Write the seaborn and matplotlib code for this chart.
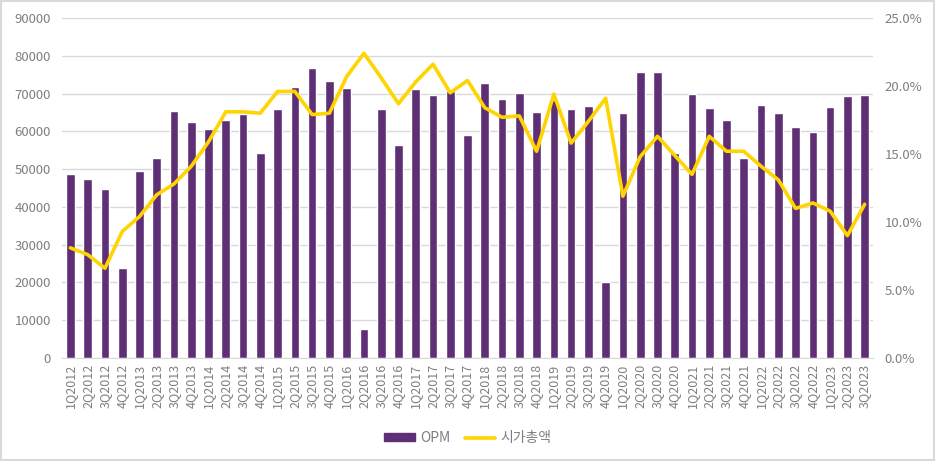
import numpy as np
import pandas as pd
import seaborn as sns
import matplotlib.pyplot as plt
from matplotlib.patches import Patch, Rectangle
from matplotlib.lines import Line2D
from matplotlib.ticker import FuncFormatter

# Quarter labels
quarters = [f"{q}Q{y}" for y in range(2012, 2024) for q in range(1, 5)][:47]

# OPM (bars, left axis)
opm = [48800, 47300, 44700, 23800, 49400, 53000, 65400, 62600,
       60700, 62900, 64700, 54200, 65800, 71700, 76800, 73300,
       71400, 7600, 66000, 56500, 71300, 69700, 70700, 58900,
       72900, 68600, 70200, 65200, 68300, 65800, 66600, 20200,
       64900, 75600, 75700, 54200, 69900, 66100, 63000, 52900,
       66900, 64800, 61200, 59900, 66500, 69400, 69600]

# 시가총액 (line, right axis, %)
mcap = [8.1, 7.6, 6.6, 9.3, 10.4, 12.0, 12.8, 14.1,
        15.9, 18.1, 18.1, 18.0, 19.6, 19.6, 17.9, 18.0,
        20.7, 22.4, 20.6, 18.7, 20.3, 21.6, 19.5, 20.4,
        18.4, 17.7, 17.8, 15.2, 19.4, 15.8, 17.4, 19.1,
        11.9, 14.8, 16.3, 14.9, 13.5, 16.3, 15.2, 15.2,
        14.1, 13.1, 11.0, 11.4, 10.8, 9.0, 11.3]

df = pd.DataFrame({"quarter": quarters, "OPM": opm, "mcap": mcap})
df["pos"] = np.arange(len(df))

bar_color = "#5E2F75"
line_color = "#FFD400"
text_color = "#7F7F7F"

sns.set_style("white")
plt.rcParams["font.family"] = ["Noto Sans CJK KR", "DejaVu Sans"]

fig = plt.figure(figsize=(9.36, 4.61), dpi=100)
ax = fig.add_axes([0.066, 0.2234, 0.867, 0.7376])

# bars
sns.barplot(data=df, x="quarter", y="OPM", color=bar_color, width=0.5,
            saturation=1, ax=ax, zorder=2)
ax.set_ylim(0, 90000)
ax.set_yticks(range(0, 90001, 10000))
ax.set_xlim(-0.5, len(df) - 0.5)
ax.grid(axis="y", color="#D9D9D9", linewidth=1, zorder=0)
ax.set_axisbelow(True)
ax.set_xlabel("")
ax.set_ylabel("")
for s in ["top", "right", "left"]:
    ax.spines[s].set_visible(False)
ax.spines["bottom"].set_color("#D9D9D9")
ax.tick_params(axis="x", rotation=90, labelsize=9, colors=text_color, length=0, pad=4)
ax.tick_params(axis="y", labelsize=9.5, colors=text_color, length=0, pad=8)

# line on the right axis
ax2 = ax.twinx()
sns.lineplot(data=df, x="pos", y="mcap", color=line_color, linewidth=2.6, ax=ax2)
ax2.set_ylim(0, 25)
ax2.set_yticks(np.arange(0, 25.1, 5))
ax2.yaxis.set_major_formatter(FuncFormatter(lambda v, p: f"{v:.1f}%"))
ax2.set_xlim(-0.5, len(df) - 0.5)
ax2.set_ylabel("")
ax2.set_xlabel("")
for s in ["top", "right", "left", "bottom"]:
    ax2.spines[s].set_visible(False)
ax2.tick_params(axis="y", labelsize=9.5, colors=text_color, length=0, pad=8)

handles = [Patch(color=bar_color), Line2D([0], [0], color=line_color, linewidth=2.6)]
fig.legend(handles, ["OPM", "시가총액"], loc="center", bbox_to_anchor=(0.5, 0.05),
           ncol=2, frameon=False, fontsize=10, labelcolor=text_color,
           handlelength=2.2, handleheight=0.5, columnspacing=1.0, handletextpad=0.4)

# outer border
fig.patches.append(Rectangle((0.001, 0.002), 0.997, 0.995, transform=fig.transFigure,
                             fill=False, edgecolor="#D9D9D9", linewidth=1.5))

fig.savefig("out.png", dpi=100)
